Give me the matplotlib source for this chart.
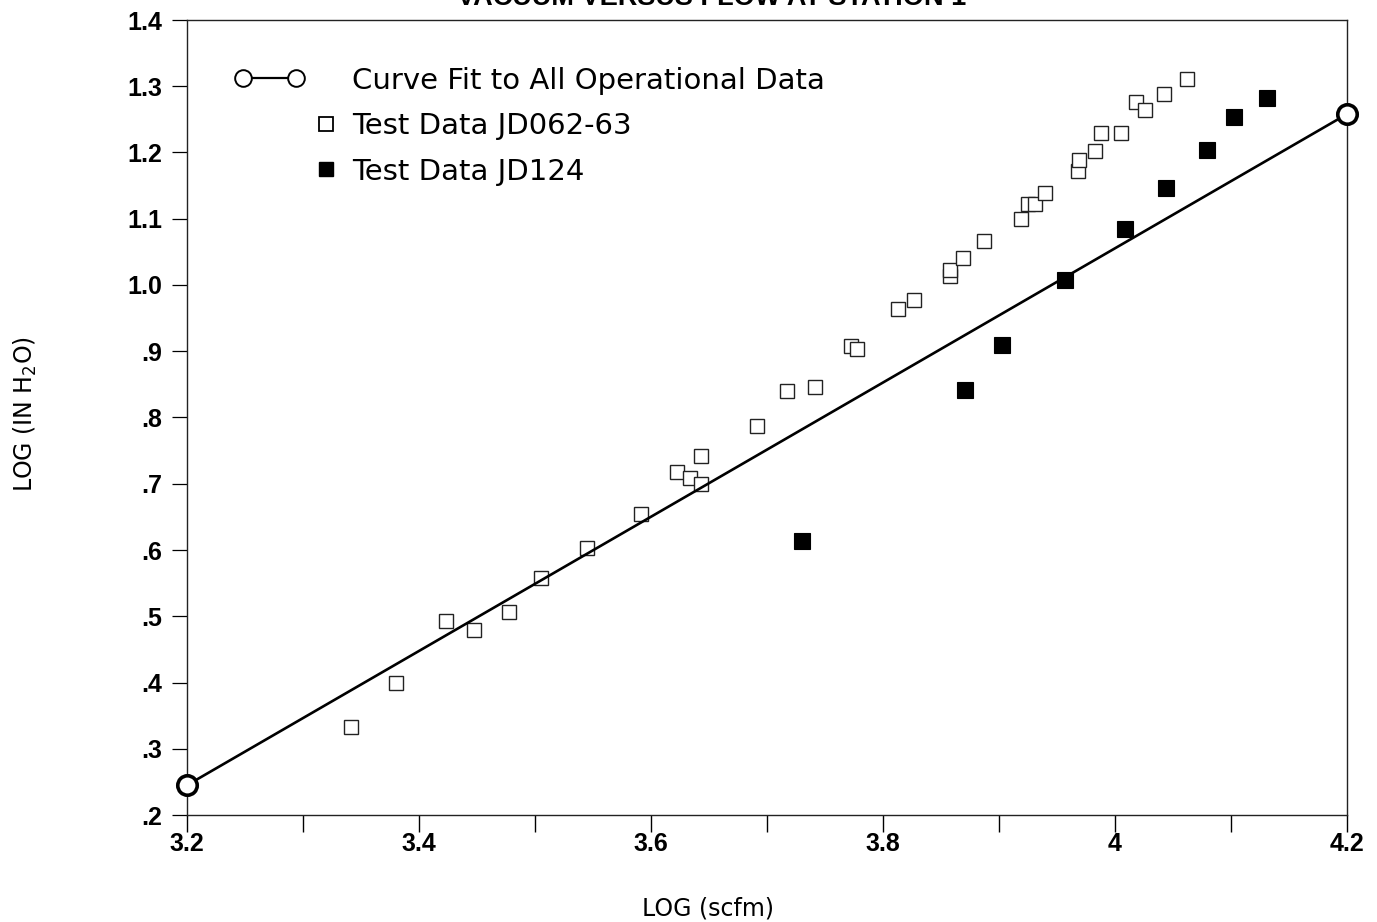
import numpy as np
import matplotlib
matplotlib.use("Agg")
import matplotlib.pyplot as plt
from matplotlib.lines import Line2D
from matplotlib.legend_handler import HandlerLine2D

# log10 of flow (scfm) and vacuum (in H2O)
jd062_x = [3.341, 3.380, 3.423, 3.447, 3.478, 3.505, 3.545, 3.591, 3.622, 3.634,
           3.643, 3.643, 3.691, 3.717, 3.741, 3.772, 3.778, 3.813, 3.827, 3.858,
           3.858, 3.869, 3.887, 3.919, 3.925, 3.931, 3.940, 3.968, 3.969, 3.983,
           3.988, 4.005, 4.018, 4.026, 4.042, 4.062]
jd062_y = [0.333, 0.399, 0.493, 0.479, 0.506, 0.558, 0.603, 0.654, 0.718, 0.709,
           0.700, 0.742, 0.787, 0.840, 0.846, 0.908, 0.903, 0.964, 0.977, 1.014,
           1.023, 1.041, 1.066, 1.100, 1.122, 1.122, 1.139, 1.172, 1.189, 1.202,
           1.229, 1.229, 1.276, 1.264, 1.288, 1.311]

jd124_x = [3.730, 3.871, 3.903, 3.957, 4.009, 4.044, 4.079, 4.103, 4.131]
jd124_y = [0.614, 0.842, 0.909, 1.008, 1.085, 1.146, 1.204, 1.254, 1.282]

fit_x = [3.2, 4.2]
fit_y = [0.245, 1.258]

x_ticks = [3.2, 3.4, 3.6, 3.8, 4.0, 4.2]
x_ticklabels = ["3.2", "3.4", "3.6", "3.8", "4", "4.2"]
x_minor = [3.3, 3.5, 3.7, 3.9, 4.1]
y_ticks = [0.2, 0.3, 0.4, 0.5, 0.6, 0.7, 0.8, 0.9, 1.0, 1.1, 1.2, 1.3, 1.4]
y_ticklabels = [".2", ".3", ".4", ".5", ".6", ".7", ".8", ".9",
                "1.0", "1.1", "1.2", "1.3", "1.4"]

title = "VACUUM VERSUS FLOW AT STATION 1"
labels = ["Curve Fit to All Operational Data", "Test Data JD062-63", "Test Data JD124"]

W, H, DPI = 1377, 922, 100
fig = plt.figure(figsize=(W / DPI, H / DPI), dpi=DPI)
ax = fig.add_axes([187 / W, (H - 815) / H, 1160 / W, 795 / H])

tick_font = dict(family="Liberation Sans", weight="bold", stretch="normal", size=18)
label_font = dict(family="DejaVu Sans", size=17)

fit_line, = ax.plot(fit_x, fit_y, color="black", lw=1.9, marker="o", ms=14,
                    mfc="white", mec="black", mew=2.6, clip_on=False, zorder=4)
open_sq, = ax.plot(jd062_x, jd062_y, ls="none", marker="s", ms=10.5, mfc="white",
                   mec="#222222", mew=1.0, zorder=3)
filled_sq, = ax.plot(jd124_x, jd124_y, ls="none", marker="s", ms=11.5, mfc="black",
                     mec="black", mew=0.8, zorder=3)

ax.set_xlim(3.2, 4.2)
ax.set_ylim(0.2, 1.4)
ax.set_xticks(x_ticks)
ax.set_xticklabels(x_ticklabels, **tick_font)
ax.set_xticks(x_minor, minor=True)
ax.set_yticks(y_ticks)
ax.set_yticklabels(y_ticklabels, **tick_font)
ax.tick_params(axis="x", which="both", direction="out", length=12, width=1.0, pad=0.5)
ax.tick_params(axis="y", direction="out", length=11, width=0.9, pad=7)
for s in ax.spines.values():
    s.set_linewidth(1.0)
    s.set_color("#222222")

ax.set_xlabel("LOG (scfm)", **label_font)
ax.xaxis.set_label_coords((708 - 187) / 1160, (815 - 908) / 795)
ax.xaxis.label.set_va("center")
ax.set_ylabel("LOG (IN H$_2$O)", **label_font)
ax.yaxis.set_label_coords((25 - 187) / 1160, (815 - 414) / 795)
ax.yaxis.label.set_va("center")

fig.text(712 / W, 1 - 5 / H, title, ha="center", va="baseline",
         family="Liberation Sans", weight="bold", stretch="normal", size=19.5)


class MarkerAfterHandle(HandlerLine2D):
    """Single marker drawn just right of the handle slot."""

    def get_xdata(self, legend, xdescent, ydescent, width, height, fontsize):
        xm = -xdescent + width + 0.72 * fontsize
        return np.array([xm - 1.0, xm + 1.0]), np.array([xm])


key_open = Line2D([], [], ls="none", marker="s", ms=9.5, mfc="white", mec="black", mew=1.3)
key_fill = Line2D([], [], ls="none", marker="s", ms=10.5, mfc="black", mec="black")
key_fit = Line2D([], [], color="black", lw=1.6, marker="o", ms=12, mfc="white",
                 mec="black", mew=1.4)

leg = ax.legend([key_fit, key_open, key_fill], labels,
                handler_map={key_open: MarkerAfterHandle(numpoints=1),
                             key_fill: MarkerAfterHandle(numpoints=1)},
                loc="upper left", bbox_to_anchor=(0.041, 0.9415), frameon=False,
                numpoints=2, handlelength=2.42, handletextpad=1.6, labelspacing=0.6,
                borderpad=0, borderaxespad=0,
                prop=dict(family="DejaVu Sans", size=21))

fig.savefig("out.png", dpi=DPI)
